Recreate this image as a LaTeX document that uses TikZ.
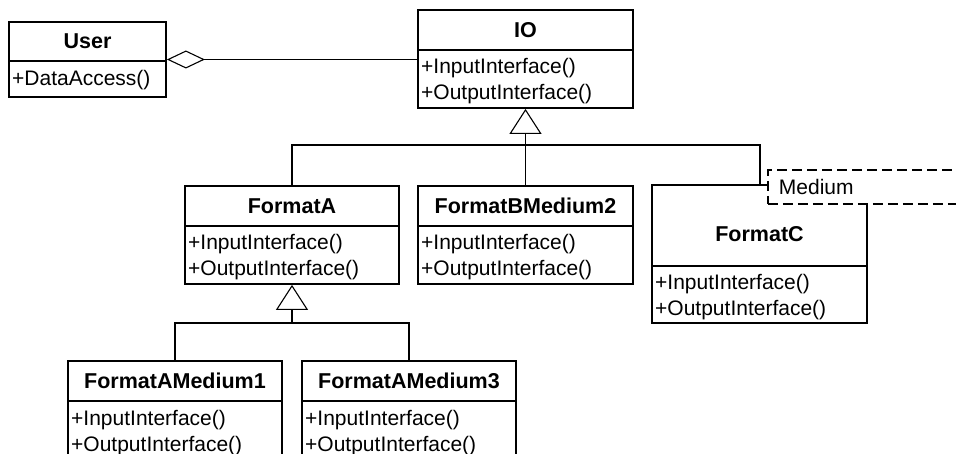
\documentclass[tikz,border=0pt]{standalone}
\usepackage{fontspec}
\setmainfont{Liberation Sans}
\usetikzlibrary{arrows.meta}

% Class box: name, left, top, right, divider, bottom, title
\newcommand{\classbox}[7]{%
  \node[boxframe, minimum width={#4-#2}, minimum height={#6-#3}]
    (#1) at ({(#2+#4)/2},{(#3+#6)/2}) {};
  \draw[boxline] (#2,#5) -- (#4,#5);
  \node[titletext] (#1-title) at ({(#2+#4)/2},{(#3+#5)/2+7.5}) {#7};
}

\begin{document}
\begin{tikzpicture}[x=1pt,y=-1pt,
  boxframe/.style={draw, rectangle, line width=1.8pt, inner sep=0pt},
  hiddenframe/.style={rectangle, inner sep=0pt},
  boxline/.style={line width=1.8pt},
  conn/.style={line width=1.1pt},
  inherit/.style={conn, -{Triangle[open, length=25pt, width=32pt, line width=1.1pt]}},
  agg/.style={conn, {Diamond[open, length=38pt, width=18pt, line width=1.1pt]}-},
  titletext/.style={font=\fontsize{21.5}{25}\selectfont\bfseries, anchor=base, inner sep=0pt},
  membertext/.style={font=\fontsize{21}{25}\selectfont, anchor=base west, inner sep=0pt},
  notebox/.style={draw, dash pattern=on 10pt off 5pt, line width=1.8pt, rectangle,
    anchor=north west, minimum height=34pt, text width=218pt, inner xsep=11pt,
    inner ysep=0pt, align=left, font=\fontsize{21}{25}\selectfont}
]
\useasboundingbox (0,0) rectangle (956,454);
\clip (0,0) rectangle (956,454);
\fill[white] (0,0) rectangle (956,454);

% User
\classbox{user}{9}{22}{166}{61}{97}{User}
\node[membertext] (user-m1) at (12,86) {+DataAccess()};

% IO
\classbox{io}{418}{10}{633}{50}{108}{IO}
\node[membertext] (io-m1) at (421,74) {+InputInterface()};
\node[membertext] (io-m2) at (421,100) {+OutputInterface()};

% FormatA
\classbox{fa}{185}{186}{399}{226}{284}{FormatA}
\node[membertext] (fa-m1) at (188,250) {+InputInterface()};
\node[membertext] (fa-m2) at (188,276) {+OutputInterface()};

% FormatBMedium2
\classbox{fb}{418}{186}{633}{226}{284}{FormatBMedium2}
\node[membertext] (fb-m1) at (421,250) {+InputInterface()};
\node[membertext] (fb-m2) at (421,276) {+OutputInterface()};

% FormatC with its Medium parameter box
\node[hiddenframe, minimum width=215pt, minimum height=138pt] (fc) at (759.5,254) {};
\node[notebox] (medium) at (767,169) {Medium};
\draw[boxline] (medium.west |- fc.north) -- (fc.north west) -- (fc.south west)
  -- (fc.south east) -- (fc.east |- medium.south);
\draw[boxline] (652,266) -- (867,266);
\node[titletext] (fc-title) at (759.5,242) {FormatC};
\node[membertext] (fc-m1) at (655,290) {+InputInterface()};
\node[membertext] (fc-m2) at (655,316) {+OutputInterface()};

% FormatAMedium1 / FormatAMedium3
\classbox{fa1}{68}{361}{282}{401}{459}{FormatAMedium1}
\node[membertext] (fa1-m1) at (71,425) {+InputInterface()};
\node[membertext] (fa1-m2) at (71,451) {+OutputInterface()};
\classbox{fa3}{302}{361}{516}{401}{459}{FormatAMedium3}
\node[membertext] (fa3-m1) at (305,425) {+InputInterface()};
\node[membertext] (fa3-m2) at (305,451) {+OutputInterface()};

% Aggregation
\draw[agg] (user.east) -- (io.west |- user.east);

% Generalisation of IO
\coordinate (iobus) at (io.south |- 0,145);
\coordinate (fcjoin) at (760,185);
\draw[inherit] (fb.north -| io.south) -- (io.south);
\draw[conn] (fa.north) |- (iobus) -| (fcjoin);

% Generalisation of FormatA
\coordinate (fabus) at (fa.south |- 0,323);
\draw[inherit] (fabus) -- (fa.south);
\draw[conn] (fa1.north) |- (fabus) -| (fa3.north);
\end{tikzpicture}
\end{document}
